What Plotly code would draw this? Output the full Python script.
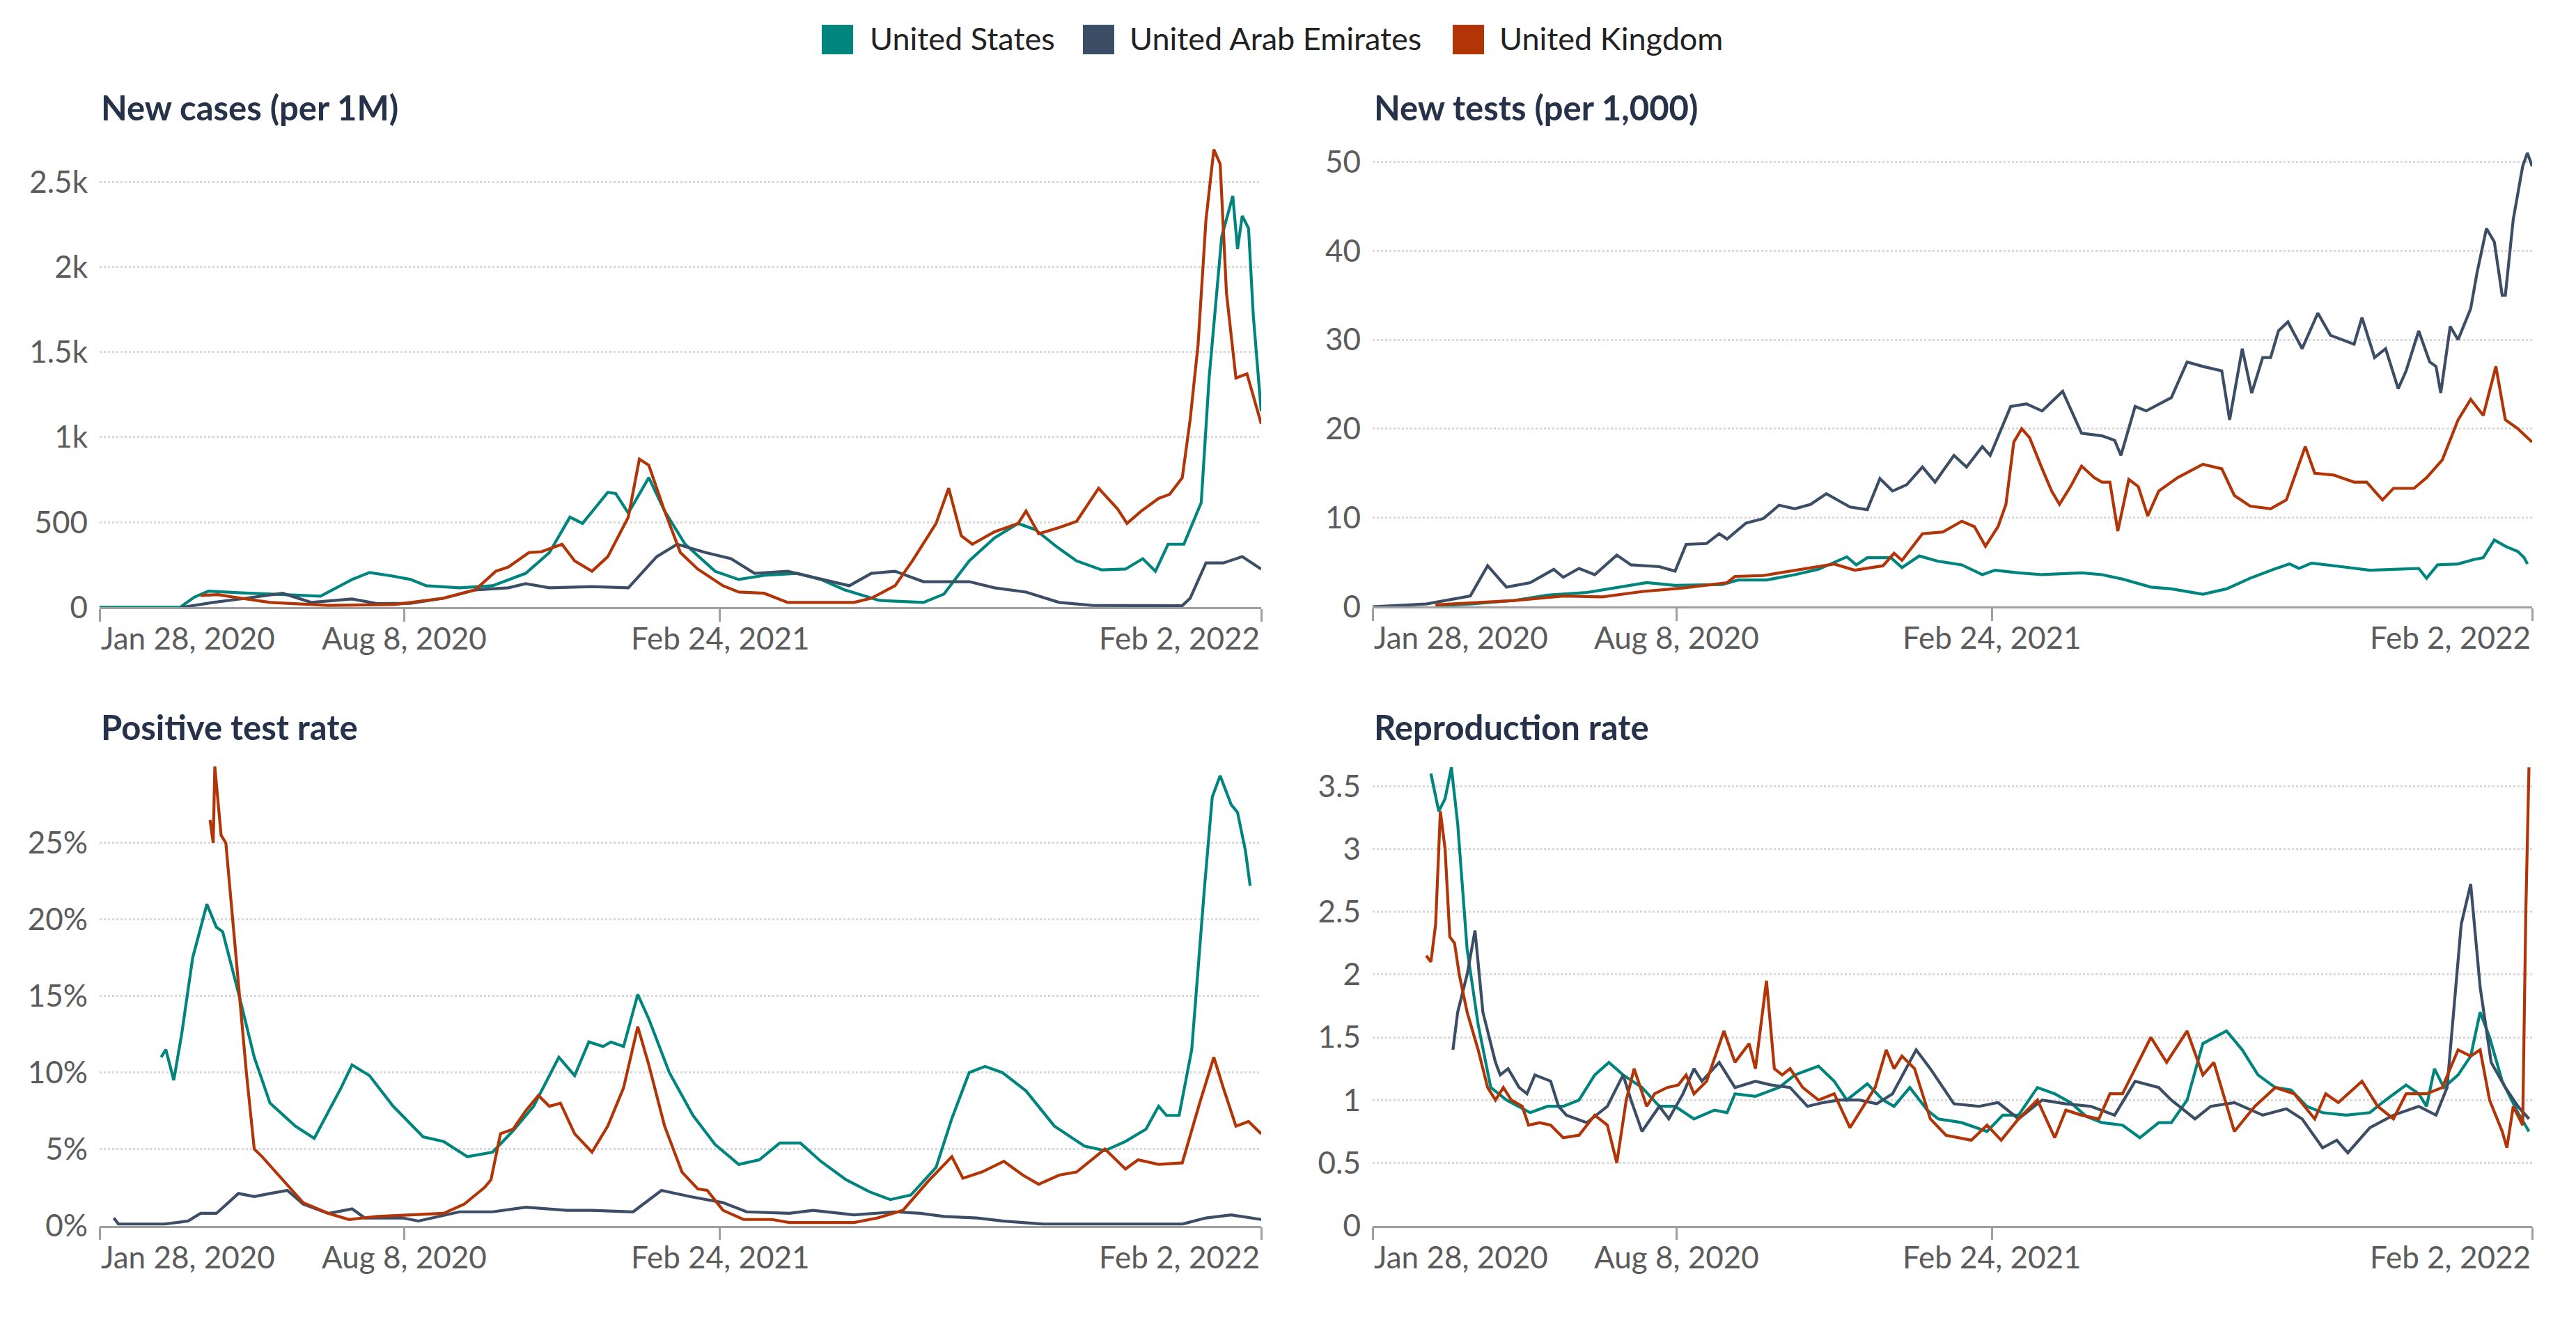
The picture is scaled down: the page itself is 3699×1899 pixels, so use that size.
import pandas as pd
import plotly.graph_objects as go

# --- canvas ---
# the page body keeps its default 8px margin, so the figure is a bit smaller
# than the window and every position below is measured on the window
W, H = 3699, 1899
OFF = 8
FW, FH = W - 2 * OFF, H - 2 * OFF
START = pd.Timestamp("2020-01-28")
END = pd.Timestamp("2022-02-02")

COUNTRIES = ["United States", "United Arab Emirates", "United Kingdom"]
COLORS = ["#00847e", "#3c4e66", "#b13507"]

# x values below are "days since Jan 28, 2020"

# --- New cases (per 1M) ---
cases_us_days = [0, 51, 60, 69, 90, 120, 140, 160, 171, 185, 197, 207, 228, 249, 270, 285, 298, 306, 322, 327,
                 335, 348, 358, 371, 390, 405, 421, 442, 457, 472, 494, 522, 535, 551, 567, 582, 593, 606, 619, 635,
                 650, 661, 669, 677, 687, 698, 703, 711, 718, 721, 724, 728, 731, 736]
cases_us = [0, 0, 60, 95, 85, 75, 66, 164, 205, 185, 164, 127, 115, 127, 200, 322, 530, 493, 676, 669,
            554, 762, 566, 371, 212, 164, 188, 200, 164, 103, 41, 29, 78, 273, 408, 493, 456, 359, 273, 220,
            225, 286, 212, 371, 371, 615, 1347, 2178, 2417, 2105, 2300, 2227, 1714, 1152]
cases_uae_days = [52, 72, 93, 116, 134, 160, 176, 197, 218, 238, 259, 270, 285, 312, 335, 353, 366, 384, 400, 415,
                  436, 457, 475, 489, 504, 522, 551, 567, 587, 608, 629, 686, 691, 701, 712, 724, 736]
cases_uae = [0, 29, 54, 83, 29, 49, 22, 24, 54, 103, 115, 139, 115, 122, 115, 298, 371, 322, 286, 200,
             212, 164, 127, 200, 212, 151, 151, 115, 90, 29, 12, 10, 54, 261, 261, 298, 225]
cases_uk_days = [64, 75, 85, 108, 145, 187, 218, 238, 251, 259, 272, 280, 293, 301, 312, 322, 335, 342, 348, 358,
                 368, 379, 395, 405, 421, 436, 452, 478, 489, 504, 515, 530, 538, 546, 553, 567, 582, 587, 595, 608,
                 619, 633, 645, 651, 660, 671, 678, 686, 691, 696, 701, 706, 710, 714, 720, 727, 736]
cases_uk = [70, 75, 60, 29, 12, 17, 54, 103, 212, 237, 322, 327, 371, 273, 212, 298, 530, 871, 835, 566,
            322, 225, 127, 90, 83, 29, 29, 29, 54, 127, 273, 493, 700, 420, 371, 444, 493, 566, 432, 469,
            505, 700, 578, 493, 566, 640, 664, 762, 1103, 1543, 2275, 2690, 2605, 1847, 1347, 1372, 1079]

# --- New tests (per 1,000) ---
tests_us_days = [40, 62, 90, 111, 136, 159, 174, 192, 222, 232, 250, 268, 283, 301, 307, 314, 329, 336, 347, 359,
                 374, 387, 395, 410, 425, 450, 463, 476, 494, 507, 527, 542, 557, 572, 582, 588, 596, 615, 633, 648,
                 664, 669, 676, 689, 699, 705, 712, 719, 727, 731, 733]
tests_us = [0.1, 0.3, 0.7, 1.3, 1.6, 2.3, 2.7, 2.4, 2.5, 3.0, 3.0, 3.6, 4.2, 5.6, 4.7, 5.5, 5.5, 4.4, 5.7, 5.1,
            4.7, 3.6, 4.1, 3.8, 3.6, 3.8, 3.6, 3.1, 2.2, 2.0, 1.4, 2.0, 3.2, 4.2, 4.8, 4.3, 4.9, 4.5, 4.1, 4.2,
            4.3, 3.2, 4.7, 4.8, 5.3, 5.5, 7.5, 6.8, 6.2, 5.5, 4.8]
tests_uae_days = [0, 34, 62, 73, 85, 100, 115, 121, 131, 141, 155, 164, 182, 192, 199, 212, 220, 225, 237, 248,
                  258, 268, 278, 288, 303, 314, 322, 330, 339, 349, 357, 369, 377, 387, 392, 405, 415, 425, 438, 445,
                  450, 463, 471, 475, 484, 491, 507, 517, 527, 539, 544, 552, 558, 565, 570, 575, 581, 590, 600, 608,
                  623, 628, 636, 643, 651, 656, 664, 671, 675, 678, 684, 689, 697, 701, 707, 712, 717, 719, 724, 730,
                  733, 736]
tests_uae = [0, 0.3, 1.2, 4.6, 2.2, 2.7, 4.2, 3.3, 4.3, 3.6, 5.8, 4.7, 4.5, 4.0, 7.0, 7.1, 8.2, 7.6, 9.4, 9.9,
             11.4, 11.0, 11.5, 12.7, 11.2, 10.9, 14.4, 13.0, 13.7, 15.7, 14.0, 17.0, 15.7, 18.0, 17.0, 22.5, 22.8, 22.0, 24.2, 21.5,
             19.5, 19.2, 18.7, 17.0, 22.5, 22.0, 23.5, 27.5, 27.0, 26.5, 21.0, 29.0, 24.0, 28.0, 28.0, 31.0, 32.0, 29.0, 33.0, 30.5,
             29.5, 32.5, 28.0, 29.0, 24.5, 26.5, 31.0, 27.5, 27.0, 24.0, 31.5, 30.0, 33.5, 37.5, 42.5, 41.0, 35.0, 35.0, 43.5, 49.5,
             51.0, 49.5]
tests_uk_days = [40, 90, 121, 146, 171, 197, 225, 230, 248, 273, 293, 306, 324, 331, 336, 349, 362, 374, 382, 389,
                 397, 402, 407, 412, 417, 425, 431, 436, 443, 450, 458, 463, 468, 473, 480, 486, 492, 499, 511, 527,
                 539, 547, 557, 570, 580, 585, 592, 598, 610, 623, 631, 641, 648, 661, 669, 679, 689, 697, 705, 713,
                 719, 727, 736]
tests_uk = [0.2, 0.7, 1.2, 1.1, 1.7, 2.1, 2.7, 3.4, 3.5, 4.2, 4.8, 4.1, 4.6, 6.0, 5.2, 8.2, 8.4, 9.6, 9.0, 6.8,
            9.0, 11.5, 18.5, 20.0, 19.0, 15.5, 13.0, 11.5, 13.5, 15.8, 14.5, 14.0, 14.0, 8.5, 14.3, 13.5, 10.2, 13.0, 14.5, 16.0,
            15.5, 12.5, 11.3, 11.0, 12.0, 14.5, 18.0, 15.0, 14.8, 14.0, 14.0, 12.0, 13.3, 13.3, 14.5, 16.5, 21.0, 23.3, 21.5, 27.0,
            21.0, 20.0, 18.5]

# --- Positive test rate (%) ---
pos_us_days = [39, 42, 47, 52, 59, 68, 74, 78, 88, 98, 108, 124, 136, 145, 153, 160, 171, 186, 205, 218,
               233, 249, 262, 275, 291, 301, 310, 319, 324, 332, 341, 348, 361, 376, 390, 405, 418, 431, 444, 457,
               473, 488, 501, 514, 530, 540, 551, 561, 572, 587, 605, 624, 637, 650, 663, 671, 676, 684, 692, 700,
               705, 710, 717, 721, 726, 729]
pos_us = [11.0, 11.5, 9.5, 12.5, 17.5, 21.0, 19.5, 19.2, 15.2, 11.0, 8.0, 6.5, 5.7, 7.4, 9.0, 10.5, 9.8, 7.8, 5.8, 5.5,
          4.5, 4.8, 6.2, 7.8, 11.0, 9.8, 12.0, 11.7, 12.0, 11.7, 15.1, 13.5, 10.0, 7.2, 5.3, 4.0, 4.3, 5.4, 5.4, 4.2,
          3.0, 2.2, 1.7, 2.0, 3.8, 7.0, 10.0, 10.4, 10.0, 8.8, 6.5, 5.2, 4.9, 5.5, 6.3, 7.8, 7.2, 7.2, 11.5, 22.0,
          28.0, 29.4, 27.5, 27.0, 24.5, 22.2]
pos_uae_days = [9, 12, 41, 56, 64, 74, 88, 98, 108, 119, 129, 145, 160, 168, 192, 202, 228, 249, 270, 296,
                312, 338, 356, 374, 395, 410, 437, 452, 478, 504, 520, 535, 556, 572, 598, 686, 701, 717, 736]
pos_uae = [0.5, 0.1, 0.1, 0.3, 0.8, 0.8, 2.1, 1.9, 2.1, 2.3, 1.4, 0.8, 1.1, 0.5, 0.5, 0.3, 0.9, 0.9, 1.2, 1.0,
           1.0, 0.9, 2.3, 1.9, 1.5, 0.9, 0.8, 1.0, 0.7, 0.9, 0.8, 0.6, 0.5, 0.3, 0.1, 0.1, 0.5, 0.7, 0.4]
pos_uk_days = [70, 72, 73, 77, 80, 83, 88, 93, 98, 103, 116, 129, 145, 158, 176, 197, 218, 231, 244, 248,
               254, 262, 270, 278, 285, 292, 301, 312, 322, 332, 341, 348, 358, 369, 379, 385, 395, 408, 426, 437,
               457, 478, 493, 509, 525, 540, 547, 559, 573, 585, 595, 608, 619, 637, 650, 658, 671, 686, 697, 706,
               712, 720, 728, 736]
pos_uk = [26.5, 25.0, 30.0, 25.5, 25.0, 21.5, 16.0, 10.0, 5.0, 4.5, 3.0, 1.5, 0.8, 0.4, 0.6, 0.7, 0.8, 1.4, 2.5, 3.0,
          6.0, 6.3, 7.5, 8.5, 7.8, 8.0, 6.0, 4.8, 6.5, 9.0, 13.0, 10.5, 6.5, 3.5, 2.4, 2.3, 1.0, 0.4, 0.4, 0.2,
          0.2, 0.2, 0.5, 1.0, 2.9, 4.5, 3.1, 3.5, 4.2, 3.3, 2.7, 3.3, 3.5, 5.0, 3.7, 4.3, 4.0, 4.1, 8.0, 11.0,
          9.0, 6.5, 6.8, 6.0]

# --- Reproduction rate ---
rep_us_days = [37, 42, 46, 50, 54, 60, 67, 75, 85, 100, 111, 121, 131, 141, 150, 159, 171, 182, 192, 204,
               217, 225, 230, 243, 258, 268, 283, 293, 301, 314, 324, 331, 341, 352, 359, 374, 390, 400, 410, 422,
               433, 443, 453, 463, 476, 487, 499, 507, 517, 527, 542, 552, 562, 573, 583, 593, 603, 618, 633, 643,
               656, 664, 669, 674, 680, 689, 697, 703, 709, 717, 727, 734]
rep_us = [3.6, 3.3, 3.4, 3.65, 3.2, 2.2, 1.6, 1.1, 1.0, 0.9, 0.95, 0.95, 1.0, 1.2, 1.3, 1.2, 1.1, 0.95, 0.95, 0.85,
          0.92, 0.9, 1.05, 1.03, 1.1, 1.2, 1.27, 1.15, 1.0, 1.13, 1.0, 0.95, 1.1, 0.92, 0.85, 0.82, 0.75, 0.88, 0.88, 1.1,
          1.05, 0.98, 0.87, 0.82, 0.8, 0.7, 0.82, 0.82, 1.0, 1.45, 1.55, 1.4, 1.2, 1.1, 1.08, 0.95, 0.9, 0.88, 0.9, 1.0,
          1.12, 1.05, 0.95, 1.25, 1.1, 1.2, 1.35, 1.7, 1.5, 1.15, 0.9, 0.75]
rep_uae_days = [51, 54, 60, 65, 70, 78, 81, 86, 93, 98, 103, 113, 118, 123, 136, 149, 159, 164, 171, 182,
                188, 197, 204, 209, 220, 230, 243, 253, 265, 276, 286, 296, 309, 320, 330, 345, 354, 369, 385, 397,
                410, 425, 440, 456, 471, 484, 499, 507, 522, 532, 547, 565, 580, 590, 603, 612, 619, 633, 648, 664,
                675, 682, 691, 697, 703, 710, 719, 727, 734]
rep_uae = [1.4, 1.7, 2.0, 2.35, 1.7, 1.3, 1.2, 1.25, 1.1, 1.05, 1.2, 1.15, 0.95, 0.88, 0.82, 0.95, 1.2, 1.0, 0.75, 0.95,
           0.85, 1.05, 1.25, 1.15, 1.3, 1.1, 1.15, 1.12, 1.1, 0.95, 0.98, 1.0, 1.0, 0.97, 1.05, 1.4, 1.25, 0.97, 0.95, 0.98,
           0.85, 1.0, 0.97, 0.95, 0.88, 1.15, 1.1, 1.0, 0.85, 0.95, 0.98, 0.88, 0.93, 0.85, 0.62, 0.68, 0.58, 0.78, 0.88, 0.95,
           0.88, 1.1, 2.4, 2.72, 1.9, 1.3, 1.1, 0.95, 0.85]
rep_uk_days = [34, 37, 40, 43, 46, 49, 52, 55, 60, 67, 73, 78, 83, 88, 95, 99, 106, 113, 121, 131,
               141, 149, 155, 161, 166, 174, 179, 187, 194, 199, 204, 212, 223, 230, 239, 243, 250, 255, 260, 265,
               273, 283, 293, 303, 319, 326, 331, 336, 344, 354, 364, 380, 390, 399, 410, 422, 433, 440, 450, 461,
               468, 476, 484, 494, 504, 517, 527, 534, 547, 560, 573, 585, 598, 605, 613, 628, 638, 648, 656, 669,
               679, 689, 697, 703, 709, 717, 720, 724, 730, 732, 734]
rep_uk = [2.15, 2.1, 2.4, 3.3, 3.0, 2.3, 2.25, 2.0, 1.7, 1.4, 1.1, 1.0, 1.1, 1.0, 0.95, 0.8, 0.82, 0.8, 0.7, 0.72,
          0.88, 0.8, 0.5, 1.0, 1.25, 0.95, 1.05, 1.1, 1.12, 1.2, 1.05, 1.15, 1.55, 1.3, 1.45, 1.25, 1.95, 1.25, 1.2, 1.25,
          1.1, 1.0, 1.05, 0.78, 1.1, 1.4, 1.25, 1.35, 1.25, 0.85, 0.72, 0.68, 0.8, 0.68, 0.85, 1.0, 0.7, 0.92, 0.88, 0.85,
          1.05, 1.05, 1.25, 1.5, 1.3, 1.55, 1.2, 1.3, 0.75, 0.95, 1.1, 1.05, 0.85, 1.05, 0.98, 1.15, 0.95, 0.85, 1.05, 1.05,
          1.1, 1.4, 1.35, 1.4, 1.0, 0.75, 0.62, 0.95, 0.8, 2.5, 3.65]

# --- axis ticks ---
x_tick_dates = ["2020-01-28", "2020-08-08", "2021-02-24", "2022-02-02"]
x_tick_labels = ["Jan 28, 2020", "Aug 8, 2020", "Feb 24, 2021", "Feb 2, 2022"]

cases_ticks = [0, 500, 1000, 1500, 2000, 2500]
cases_labels = ["0", "500", "1k", "1.5k", "2k", "2.5k"]
tests_ticks = [0, 10, 20, 30, 40, 50]
pos_ticks = [0, 5, 10, 15, 20, 25]
pos_labels = ["0%", "5%", "10%", "15%", "20%", "25%"]
rep_ticks = [0, 0.5, 1, 1.5, 2, 2.5, 3, 3.5]
rep_labels = ["0", "0.5", "1", "1.5", "2", "2.5", "3", "3.5"]


def to_dates(days):
    return START + pd.to_timedelta(days, unit="D")


def px_x(v):
    return (v - OFF) / FW


def px_y(v):
    return 1 - (v - OFF) / FH


FONT = "Lato, 'Open Sans', sans-serif"
TICK_COLOR = "#5b5b5b"

# (title, series, ticks, labels, y max, x domain px, y domain px, title y px)
panels = [
    ("New cases (per 1M)",
     [(cases_us_days, cases_us), (cases_uae_days, cases_uae), (cases_uk_days, cases_uk)],
     cases_ticks, cases_labels, 2717, (143, 1811), (882, 208), 153),
    ("New tests (per 1,000)",
     [(tests_us_days, tests_us), (tests_uae_days, tests_uae), (tests_uk_days, tests_uk)],
     tests_ticks, [str(t) for t in tests_ticks], 51.9, (1971, 3636), (881, 208), 153),
    ("Positive test rate",
     [(pos_us_days, pos_us), (pos_uae_days, pos_uae), (pos_uk_days, pos_uk)],
     pos_ticks, pos_labels, 30.35, (143, 1811), (1783, 1106), 1056),
    ("Reproduction rate",
     [(rep_us_days, rep_us), (rep_uae_days, rep_uae), (rep_uk_days, rep_uk)],
     rep_ticks, rep_labels, 3.70, (1971, 3636), (1783, 1106), 1056),
]

fig = go.Figure()
annotations = []
layout_axes = {}

for i, (title, series, yt, yl, ymax, xd, yd, ty) in enumerate(panels, start=1):
    sfx = "" if i == 1 else str(i)
    for (days, vals), name, color in zip(series, COUNTRIES, COLORS):
        fig.add_trace(go.Scatter(
            x=to_dates(days), y=vals, name=name, mode="lines",
            line=dict(color=color, width=4.2),
            xaxis="x" + sfx, yaxis="y" + sfx, showlegend=False,
        ))

    layout_axes["xaxis" + sfx] = dict(
        domain=[px_x(xd[0]), px_x(xd[1])], anchor="y" + sfx,
        range=[START, END], type="date",
        showgrid=False, zeroline=False,
        showline=True, linecolor="#a0a0a0", linewidth=2.5,
        ticks="outside", ticklen=18, tickwidth=2.5, tickcolor="#a0a0a0",
        tickvals=x_tick_dates, showticklabels=False,
    )
    layout_axes["yaxis" + sfx] = dict(
        domain=[px_y(yd[0]), px_y(yd[1])], anchor="x" + sfx,
        range=[0, ymax], showline=False, zeroline=False,
        showgrid=True, gridcolor="#d9d9d9", griddash="dot", gridwidth=2.5,
        tickvals=yt, ticktext=yl, ticklabelstandoff=16,
        tickfont=dict(family=FONT, size=44, color=TICK_COLOR),
    )

    # panel title
    annotations.append(dict(
        text="<b>" + title + "</b>", xref="x" + sfx + " domain", x=0, xanchor="left",
        yref="paper", y=px_y(ty), yanchor="middle", showarrow=False,
        font=dict(family=FONT, size=49, color="#25324a"),
    ))

    # x tick labels: first left aligned, last right aligned
    anchors = ["left", "center", "center", "right"]
    for d, lab, anc in zip(x_tick_dates, x_tick_labels, anchors):
        annotations.append(dict(
            text=lab, xref="x" + sfx, x=d, xanchor=anc,
            yref="y" + sfx + " domain", y=0, yanchor="middle", yshift=-44,
            showarrow=False, font=dict(family=FONT, size=44, color=TICK_COLOR),
        ))

# --- legend drawn by hand (big square swatches) ---
shapes = []
legend_x = [(1180, 1247), (1555, 1620), (2086, 2151)]
for (sx, tx), name, color in zip(legend_x, COUNTRIES, COLORS):
    shapes.append(dict(
        type="rect", xref="paper", yref="paper",
        x0=px_x(sx), x1=px_x(sx + 45), y0=px_y(76), y1=px_y(33),
        fillcolor=color, line=dict(width=0),
    ))
    annotations.append(dict(
        text=name, xref="paper", x=px_x(tx), xanchor="left",
        yref="paper", y=px_y(53), yanchor="middle", showarrow=False,
        font=dict(family=FONT, size=45, color="#222222"),
    ))

fig.update_layout(
    width=FW, height=FH,
    margin=dict(l=0, r=0, t=0, b=0),
    paper_bgcolor="white", plot_bgcolor="white",
    showlegend=False,
    annotations=annotations, shapes=shapes,
    **layout_axes,
)

fig.write_html("out.html")
